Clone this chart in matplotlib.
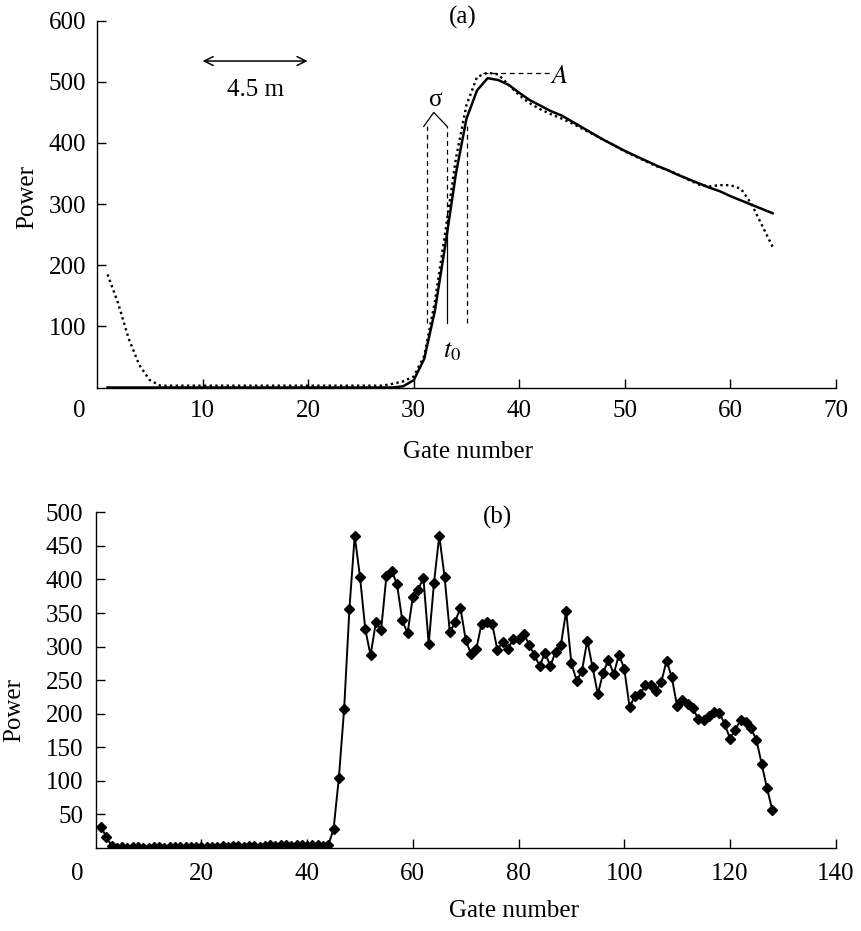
import matplotlib
matplotlib.use("Agg")
import matplotlib.pyplot as plt
import numpy as np

plt.rcParams['font.family'] = ['Liberation Serif', 'DejaVu Serif']
plt.rcParams['mathtext.fontset'] = 'stix'
FS = 18

# ---------------- data: panel (a) ----------------
gates_a = list(range(1, 65))
fit_a = [0]*28 + [2, 12, 47, 125, 234, 350, 440, 486, 506, 503,
                  495, 482, 470, 461, 452, 445, 435, 425, 415, 405,
                  396, 387, 379, 371, 363, 356, 348, 341, 334, 327,
                  321, 313, 306, 299, 292, 285]
meas_a = [185, 138, 80, 37, 12, 3] + [3]*21 + [6, 10, 18, 52, 140,
          255, 375, 462, 508, 515, 512, 495, 478, 465, 455,
          447, 440, 432, 423, 414, 405, 396, 386, 378, 370,
          362, 356, 349, 340, 332, 329, 331, 331, 325, 300,
          265, 230]

# ---------------- data: panel (b) ----------------
gates_b = list(range(1, 129))
power_b = [31, 17, 3, 0,
           1, 0, 1, 1, 0, 0, 1, 1, 0, 1, 1, 1, 2, 1, 2, 2, 1, 2, 2, 3,
           2, 3, 3, 2, 3, 3, 2, 3, 4, 3, 4, 4, 3, 4, 4, 3, 4, 4, 3, 4,
           28, 104, 207, 356, 465, 404, 326, 287, 336, 325,
           405, 413, 393, 339, 320, 374, 385, 402, 304, 395,
           465, 404, 321, 337, 358, 310, 289, 296, 334, 337,
           334, 295, 307, 297, 311, 311, 319, 303, 287, 271,
           291, 271, 292, 302, 353, 275, 249, 264, 309, 269,
           229, 261, 280, 259, 288, 267, 210, 226, 229, 243,
           243, 234, 247, 279, 254, 211, 221, 215, 208, 192,
           191, 197, 203, 201, 185, 163, 176, 191, 188, 178,
           161, 125, 89, 57]

xticks_a = [10, 20, 30, 40, 50, 60, 70]
yticks_a = [100, 200, 300, 400, 500, 600]
xticks_b = [20, 40, 60, 80, 100, 120, 140]
yticks_b = [50, 100, 150, 200, 250, 300, 350, 400, 450, 500]

W, H = 861, 931
fig = plt.figure(figsize=(W/100, H/100), dpi=100)
axA = fig.add_axes([97/W, 1-387.5/H, (836-97)/W, (387.5-20.7)/H])
axB = fig.add_axes([95.7/W, 1-848/H, (835.7-95.7)/W, (848-512.3)/H])

def style(ax, xpad, ypad):
    for s in ['top', 'right']:
        ax.spines[s].set_visible(False)
    for s in ['left', 'bottom']:
        ax.spines[s].set_linewidth(1.0)
    ax.tick_params(axis='both', direction='in', length=6.5, width=1.0,
                   labelsize=FS, colors='black')
    ax.tick_params(axis='x', pad=xpad)
    ax.tick_params(axis='y', pad=ypad)

# ---------------- panel (a) ----------------
axA.plot(gates_a, meas_a, color='black', lw=1.7, linestyle=(0, (1, 1.4)))
axA.plot(gates_a, fit_a, color='black', lw=1.8)
axA.set_xlim(0, 70)
axA.set_ylim(0, 600)
axA.set_xticks(xticks_a)
axA.set_yticks(yticks_a)
style(axA, 9, 8)
axA.annotate('0', xy=(0, 0), xycoords=('data', 'axes fraction'),
             xytext=(-13, -9), textcoords='offset points',
             ha='center', va='top', fontsize=FS)
axA.set_ylabel('Power', fontsize=FS)
axA.yaxis.set_label_coords(-0.080, 0.52)
axA.set_xlabel('Gate number', fontsize=FS)
axA.xaxis.set_label_coords(0.5025, -0.146)

dash = (0, (4, 3))
axA.plot([31.27, 31.27], [105, 427], color='black', lw=0.9, linestyle=dash)
axA.plot([35.06, 35.06], [105, 428], color='black', lw=0.9, linestyle=dash)
axA.plot([33.17, 33.17], [252, 427], color='black', lw=0.9, linestyle=dash)
axA.plot([33.17, 33.17], [105, 252], color='black', lw=0.9)
axA.plot([30.95, 31.9, 33.17], [427, 450, 427], color='black', lw=0.9)
axA.plot([36.6, 43.0], [515, 515], color='black', lw=0.9, linestyle=dash)
axA.text(32.06, 470, 'σ', fontsize=FS, ha='center', va='center')
axA.text(33.6, 58, r'$t_0$', fontsize=FS+1, ha='center', va='center')
axA.text(43.8, 508, r'$A$', fontsize=FS+1, ha='center', va='center')
axA.annotate('', xy=(10.0, 534), xytext=(19.95, 534),
             arrowprops=dict(arrowstyle='<->', lw=1.1, color='black',
                             mutation_scale=16, shrinkA=0, shrinkB=0))
axA.text(15.0, 487, '4.5 m', fontsize=FS, ha='center', va='center')
axA.text(34.6, 606, '(a)', fontsize=FS, ha='center', va='center', clip_on=False)

# ---------------- panel (b) ----------------
axB.plot(gates_b, power_b, color='black', lw=1.4, marker='D', markersize=5.5,
         markerfacecolor='black', markeredgecolor='black')
axB.set_xlim(0, 140)
axB.set_ylim(0, 500)
axB.set_xticks(xticks_b)
axB.set_yticks(yticks_b)
style(axB, 11, 9)
axB.annotate('0', xy=(0, 0), xycoords=('data', 'axes fraction'),
             xytext=(-13.5, -11), textcoords='offset points',
             ha='center', va='top', fontsize=FS)
axB.set_ylabel('Power', fontsize=FS)
axB.yaxis.set_label_coords(-0.0955, 0.41)
axB.set_xlabel('Gate number', fontsize=FS)
axB.xaxis.set_label_coords(0.565, -0.155)
axB.text(76.1, 493, '(b)', fontsize=FS, ha='center', va='center', clip_on=False)

fig.savefig('out.png', dpi=100)
